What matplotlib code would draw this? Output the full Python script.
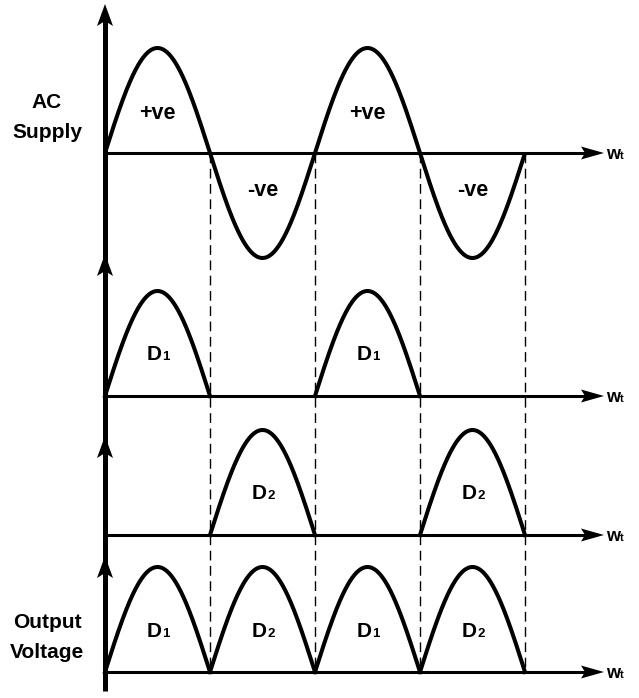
import numpy as np
import matplotlib
matplotlib.use("Agg")
import matplotlib.pyplot as plt
from matplotlib.patches import Polygon

# ---------------- data ----------------
half_cycles = [0, 1, 2, 3]                 # half-period index (units of pi)
polarity = ["+ve", "-ve", "+ve", "-ve"]   # AC supply polarity per half cycle
diode_sub = ["1", "2", "1", "2"]           # conducting diode per half cycle
amplitude = 1.0
panel_titles = [["AC", "Supply"], [], [], ["Output", "Voltage"]]
axis_label = ("w", "t")

# ---------------- layout (pixels) ----------------
W, H = 639, 698
PX = 105.0                       # pixels per unit (pi on x, amplitude on y)
X0 = 105.0                       # x pixel of origin
baselines_px = [153, 396, 535, 672]
vtips_px = [4, 254, 436, 556]
vbottom_px = 691
htip_px = 604

def dx(px):
    return (px - X0) / PX

def dy(py):
    return (H - py) / PX

fig = plt.figure(figsize=(W / 100, H / 100), dpi=100)
ax = fig.add_axes([0, 0, 1, 1])
ax.set_xlim(dx(0), dx(W))
ax.set_ylim(dy(H), dy(0))
ax.axis("off")

FONT = "Liberation Sans"
lw_curve = 2.9
lw_h = 2.2
lw_v = 3.6

t_all = np.linspace(0, len(half_cycles), 801)
base = [dy(p) for p in baselines_px]

# panel 1: AC supply
ax.plot(t_all, base[0] + amplitude * np.sin(np.pi * t_all), color="black",
        lw=lw_curve, solid_capstyle="butt", zorder=3)
for k, lab in zip(half_cycles, polarity):
    sgn = 1 if lab.startswith("+") else -1
    ypos = base[0] + (34 / PX if sgn > 0 else -43 / PX)
    ax.text(k + 0.5, ypos, lab, ha="center", va="baseline",
            fontsize=15.5, fontweight="bold", family=FONT, zorder=4)

# panels 2,3: diode currents; panel 4: output
def half_wave(k):
    t = np.linspace(k, k + 1, 201)
    return t, amplitude * np.abs(np.sin(np.pi * t))

def diode_label(k, yb, sub):
    c = k + 0.5
    ax.text(c + 4 / PX, yb, "D", ha="right", va="baseline", fontsize=15,
            fontweight="bold", family=FONT, zorder=4)
    ax.text(c + 4.5 / PX, yb, sub, ha="left", va="baseline", fontsize=9.5,
            fontweight="bold", family=FONT, zorder=4)

for k, sub in zip(half_cycles, diode_sub):
    panel = 1 if sub == "1" else 2
    t, v = half_wave(k)
    ax.plot(t, base[panel] + v, color="black", lw=lw_curve, zorder=3)
    diode_label(k, base[panel] + 36 / PX, sub)
    ax.plot(t, base[3] + v, color="black", lw=lw_curve, zorder=3)
    diode_label(k, base[3] + 35 / PX, sub)

# horizontal axes with arrows and labels
for b in base:
    ax.plot([0, dx(htip_px - 10)], [b, b], color="black", lw=lw_h, zorder=2,
            solid_capstyle="butt")
    tip = dx(htip_px)
    L = 23 / PX
    hw = 6.5 / PX
    notch = 4 / PX
    ax.add_patch(Polygon([[tip, b], [tip - L, b + hw], [tip - L + notch, b],
                          [tip - L, b - hw]], closed=True, color="black", lw=0,
                         zorder=3))
    ax.text(dx(606), b - 6 / PX, axis_label[0], ha="left", va="baseline",
            fontsize=13, fontweight="bold", family=FONT)
    ax.text(dx(620), b - 6 / PX, axis_label[1], ha="left", va="baseline",
            fontsize=8, fontweight="bold", family=FONT)

# vertical axis with arrowheads
ax.plot([0, 0], [dy(vbottom_px), dy(vtips_px[0] + 10)], color="black", lw=lw_v,
        solid_capstyle="butt", zorder=4)
for vt in vtips_px:
    tipy = dy(vt)
    L = 22 / PX
    hw = 8 / PX
    notch = 5 / PX
    ax.add_patch(Polygon([[0, tipy], [hw, tipy - L], [0, tipy - L + notch],
                          [-hw, tipy - L]], closed=True, color="black", lw=0,
                         zorder=5))

# dashed guide lines at zero crossings
for k in half_cycles:
    ax.plot([k + 1, k + 1], [base[0], base[3]], color="black", lw=1.0,
            linestyle=(0, (7, 4)), zorder=1)

# panel titles
for b, lines in zip(base, panel_titles):
    if not lines:
        continue
    ax.text(dx(47), b + 50 / PX, lines[0], ha="center", va="center",
            fontsize=15, fontweight="bold", family=FONT)
    ax.text(dx(47), b + 20 / PX, lines[1], ha="center", va="center",
            fontsize=15, fontweight="bold", family=FONT)

fig.savefig("out.png", dpi=100, facecolor="white")
